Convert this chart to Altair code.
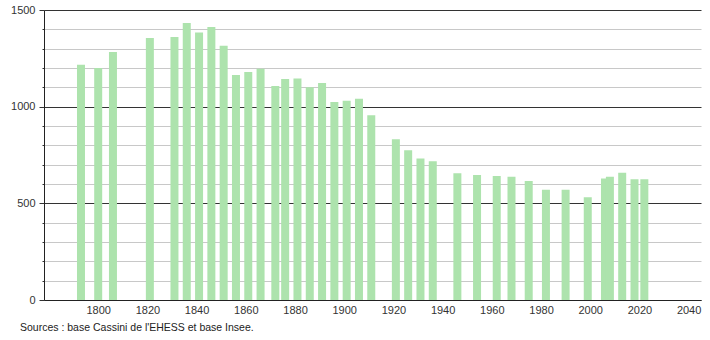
import altair as alt
import pandas as pd

years = [1793, 1800, 1806, 1821, 1831, 1836, 1841, 1846, 1851, 1856, 1861, 1866,
         1872, 1876, 1881, 1886, 1891, 1896, 1901, 1906, 1911, 1921, 1926, 1931,
         1936, 1946, 1954, 1962, 1968, 1975, 1982, 1990, 1999, 2006, 2008, 2013,
         2018, 2022]
population = [1217, 1200, 1283, 1355, 1360, 1433, 1383, 1412, 1315, 1164, 1179, 1196,
              1107, 1143, 1146, 1101, 1122, 1024, 1031, 1041, 956, 832, 775, 732,
              718, 656, 646, 642, 637, 615, 570, 570, 532, 628, 638, 658,
              625, 625]
x_ticks = [1800, 1820, 1840, 1860, 1880, 1900, 1920, 1940, 1960, 1980, 2000, 2020, 2040]
y_ticks = list(range(0, 1501, 100))
source_text = "Sources : base Cassini de l'EHESS et base Insee."

df = pd.DataFrame({"year": years, "pop": population})

FONT = "Liberation Sans"

chart = alt.Chart(df).mark_bar(size=8, color="#ade3ad").encode(
    x=alt.X("year:Q",
            scale=alt.Scale(domain=[1780, 2043], nice=False, zero=False),
            axis=alt.Axis(values=x_ticks, title=None, format="d", ticks=False,
                          grid=False, labelPadding=4, domainColor="#222",
                          labelFontSize=11, labelColor="#333", labelFont=FONT)),
    y=alt.Y("pop:Q",
            scale=alt.Scale(domain=[0, 1500], nice=False),
            axis=alt.Axis(values=y_ticks, title=None,
                          labelExpr="datum.value % 500 === 0 ? datum.label : ''",
                          format="d",
                          grid=True,
                          gridColor={"condition": {"test": "datum.value % 500 === 0", "value": "#333"}, "value": "#c8c8c8"},
                          tickSize={"condition": {"test": "datum.value % 500 === 0", "value": 5}, "value": 2},
                          tickColor="#333", domainColor="#222",
                          labelPadding=4, labelFontSize=11, labelColor="#333",
                          labelFont=FONT)),
).properties(
    width=657,
    height=290,
    title=alt.TitleParams(text=source_text, orient="bottom", anchor="start",
                          frame="group", dx=-24, offset=8, fontSize=10.5, font=FONT,
                          fontWeight="normal", color="#222"),
    autosize=alt.AutoSizeParams(type="none"),
    padding={"left": 44, "top": 10, "right": 9, "bottom": 40},
).configure_view(stroke=None)

chart.save("out.html", embed_options={"renderer": "svg", "actions": False})
